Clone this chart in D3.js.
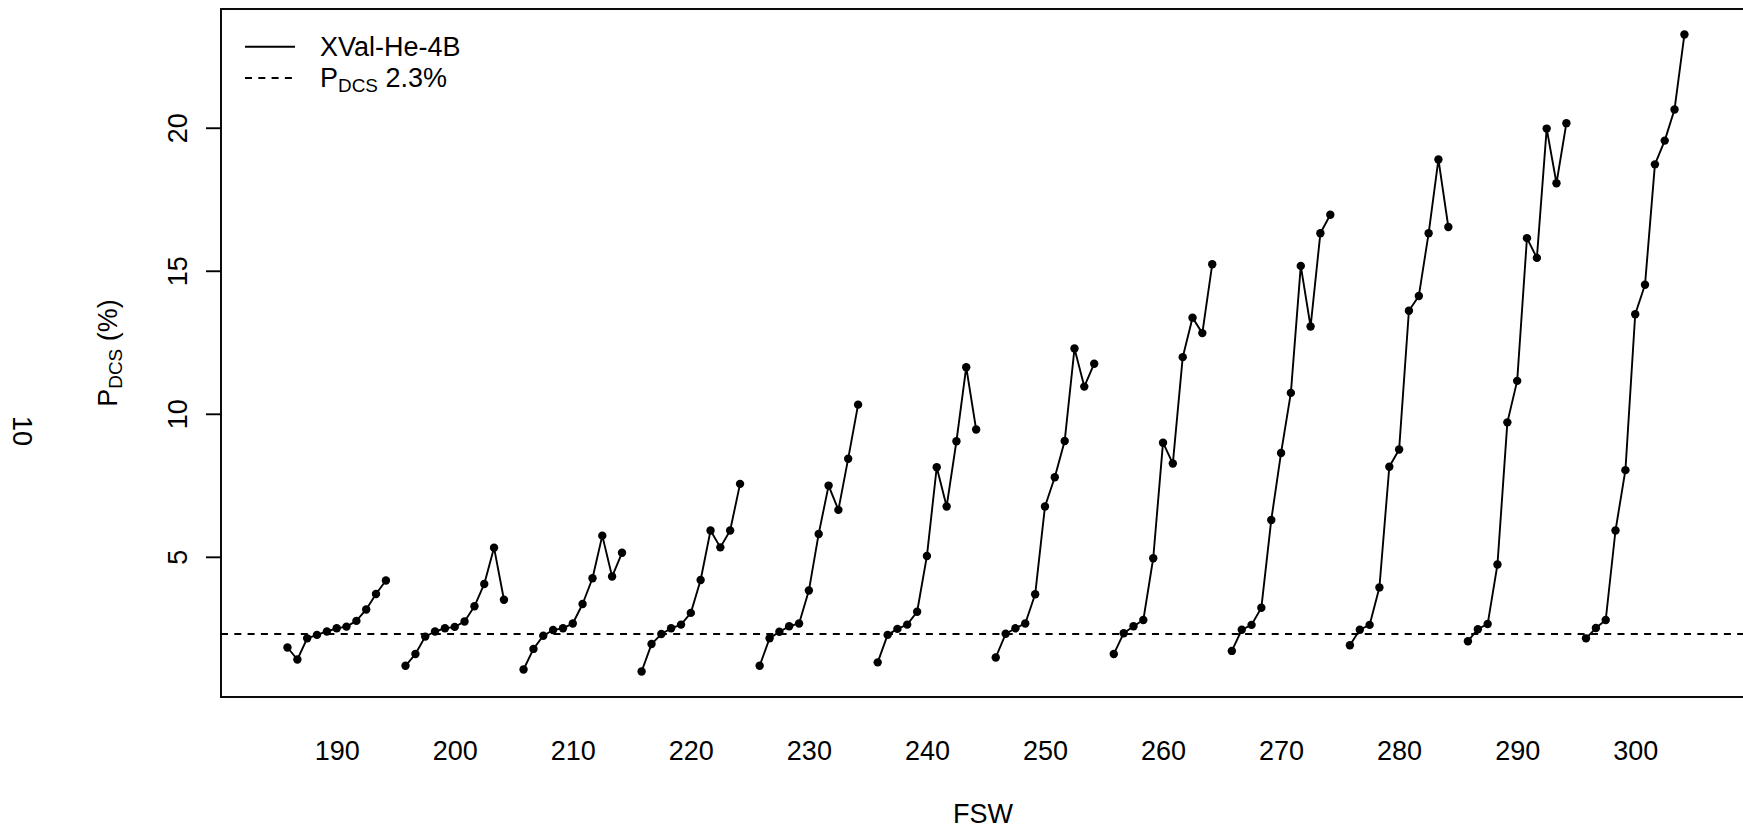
<!DOCTYPE html>
<html><head><meta charset="utf-8">
<script src="https://cdn.jsdelivr.net/npm/d3@7"></script>
<style>
body{margin:0;background:#fff}
svg{display:block}
text{font-family:"Liberation Sans",Arial,Helvetica,sans-serif;fill:#000}
</style>
</head><body>
<svg id="chart" width="1743" height="830"></svg>
<script>
// ---- data ----
const depths  = [190,200,210,220,230,240,250,260,270,280,290,300];
const xTickLabels = ["190","200","210","220","230","240","250","260","270","280","290","300"];
const yTicks  = [5,10,15,20];
const offsets = [-4.17,-3.33,-2.5,-1.67,-0.83,0,0.83,1.67,2.5,3.33,4.17];
const threshold = 2.3;
const xlim = [180.2, 309.3];

const p190 = [1.83,1.41,2.15,2.27,2.39,2.50,2.56,2.76,3.16,3.70,4.17];
const p200 = [1.19,1.60,2.21,2.39,2.50,2.55,2.74,3.27,4.05,5.32,3.50];
const p210 = [1.06,1.78,2.24,2.44,2.50,2.67,3.35,4.25,5.74,4.31,5.14];
const p220 = [0.99,1.95,2.30,2.50,2.63,3.04,4.19,5.92,5.33,5.92,7.55];
const p230 = [1.19,2.15,2.38,2.57,2.67,3.82,5.80,7.49,6.64,8.43,10.32];
const p240 = [1.31,2.27,2.48,2.63,3.08,5.03,8.13,6.76,9.04,11.63,9.45];
const p250 = [1.48,2.31,2.50,2.67,3.69,6.76,7.78,9.05,12.28,10.95,11.75];
const p260 = [1.60,2.33,2.57,2.79,4.95,8.99,8.26,11.98,13.36,12.82,15.23];
const p270 = [1.71,2.45,2.62,3.22,6.29,8.63,10.73,15.17,13.05,16.31,16.96];
const p280 = [1.91,2.45,2.62,3.93,8.15,8.75,13.60,14.12,16.31,18.89,16.53];
const p290 = [2.05,2.47,2.65,4.73,9.70,11.15,16.14,15.45,19.97,18.06,20.16];
const p300 = [2.15,2.51,2.79,5.92,8.03,13.48,14.51,18.72,19.55,20.64,23.26];
const seriesValues = [p190,p200,p210,p220,p230,p240,p250,p260,p270,p280,p290,p300];

const legendLabels = ["XVal-He-4B", "2.3%"];

// ---- layout ----
const svg = d3.select("#chart");
const plot = {left:221, top:9, right:1745, bottom:697};
const FS = 27;
const LW = 1.9;

const groups = depths.map((d,i)=>seriesValues[i].map((v,k)=>({x:d+offsets[k], y:v})));
const allY = groups.flat().map(p=>p.y);
const [ymin,ymax] = d3.extent(allY);
const pad = (ymax-ymin)*0.04;

const x = d3.scaleLinear().domain(xlim).range([plot.left, plot.right]);
const y = d3.scaleLinear().domain([ymin-pad, ymax+pad]).range([plot.bottom, plot.top]);

// threshold dashed line
svg.append("line")
  .attr("x1", plot.left).attr("x2", plot.right)
  .attr("y1", y(threshold)).attr("y2", y(threshold))
  .attr("stroke","#000").attr("stroke-width",LW)
  .attr("stroke-dasharray","7,6.3");

// series lines
const line = d3.line().x(d=>x(d.x)).y(d=>y(d.y));
svg.append("g").selectAll("path").data(groups).join("path")
  .attr("d", line).attr("fill","none")
  .attr("stroke","#000").attr("stroke-width",LW).attr("stroke-linejoin","round");

// points
svg.append("g").selectAll("circle").data(groups.flat()).join("circle")
  .attr("cx", d=>x(d.x)).attr("cy", d=>y(d.y)).attr("r",4.2).attr("fill","#000");

// box
svg.append("rect")
  .attr("x", plot.left).attr("y", plot.top)
  .attr("width", plot.right-plot.left).attr("height", plot.bottom-plot.top)
  .attr("fill","none").attr("stroke","#000").attr("stroke-width",LW);

// y axis ticks
const yAxis = d3.axisLeft(y).tickValues(yTicks).tickSize(15).tickSizeOuter(0).tickFormat(d3.format("d"));
const gy = svg.append("g").attr("transform",`translate(${plot.left},0)`).call(yAxis);
gy.select(".domain").remove();
gy.selectAll(".tick line").attr("stroke","#000").attr("stroke-width",LW);
gy.selectAll(".tick text").remove();
gy.selectAll(".tick").append("text")
  .attr("transform","translate(-34,0) rotate(-90)")
  .attr("text-anchor","middle").attr("font-size",FS)
  .text(d=>d3.format("d")(d));

// x axis labels (no ticks)
const xAxis = d3.axisBottom(x).tickValues(depths).tickSize(0).tickFormat((d,i)=>xTickLabels[i]);
const gx = svg.append("g").attr("transform",`translate(0,${plot.bottom})`).call(xAxis);
gx.select(".domain").remove();
gx.selectAll(".tick text").attr("font-size",FS).attr("dy",null).attr("y",63)
  .attr("font-family",'"Liberation Sans",Arial,sans-serif').attr("fill","#000");

// x label
svg.append("text").attr("x",(plot.left+plot.right)/2).attr("y",823)
  .attr("text-anchor","middle").attr("font-size",FS).text("FSW");

// y label
const yl = svg.append("text").attr("transform","translate(117,353) rotate(-90)")
  .attr("text-anchor","middle").attr("font-size",FS);
yl.append("tspan").text("P");
yl.append("tspan").attr("font-size",FS*0.7).attr("dy",5).text("DCS");
yl.append("tspan").attr("dy",-5).text(" (%)");

// stray label at far left
svg.append("text").attr("transform","translate(13,431) rotate(90)")
  .attr("text-anchor","middle").attr("font-size",FS).text("10");

// legend
svg.append("line").attr("x1",245).attr("x2",295).attr("y1",46.7).attr("y2",46.7)
  .attr("stroke","#000").attr("stroke-width",LW);
svg.append("line").attr("x1",245).attr("x2",295).attr("y1",78).attr("y2",78)
  .attr("stroke","#000").attr("stroke-width",LW).attr("stroke-dasharray","7,6.3");
svg.append("text").attr("x",320).attr("y",56).attr("font-size",FS).text(legendLabels[0]);
const l2 = svg.append("text").attr("x",320).attr("y",87).attr("font-size",FS);
l2.append("tspan").text("P");
l2.append("tspan").attr("font-size",FS*0.7).attr("dy",5).text("DCS");
l2.append("tspan").attr("dy",-5).text(" " + legendLabels[1]);
</script>
</body></html>
